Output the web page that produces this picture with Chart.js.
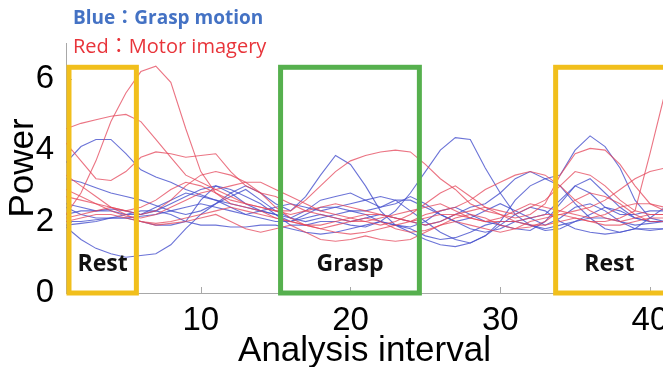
<!DOCTYPE html>
<html>
<head>
<meta charset="utf-8">
<script src="https://cdn.jsdelivr.net/npm/chart.js@4"></script>
<style>
  body { margin: 0; background: #fff; }
  #wrap { position: relative; width: 663px; height: 367px; }
  .note { position: absolute; left: 73px; font-family: 'Open Sans', 'Noto Sans CJK JP', sans-serif; line-height: 1; white-space: nowrap; }
  #noteBlue { top: 8px; color: #4472C4; font-weight: bold; font-size: 19px; }
  #noteRed { top: 36px; color: #E8343A; font-size: 20px; }
</style>
</head>
<body>
<div id="wrap">
  <canvas id="chart" width="663" height="367"></canvas>
  <div class="note" id="noteBlue">Blue：Grasp motion</div>
  <div class="note" id="noteRed">Red：Motor imagery</div>
</div>
<script>
// --- dados ---
const intervals = [1, 2, 3, 4, 5, 6, 7, 8, 9, 10, 11, 12, 13, 14, 15, 16, 17, 18, 19, 20,
                   21, 22, 23, 24, 25, 26, 27, 28, 29, 30, 31, 32, 33, 34, 35, 36, 37, 38, 39, 40, 41];
const xTicks = [10, 20, 30, 40];
const yTicks = [0, 2, 4, 6];

// Blue: Grasp motion
const blue1 = [1.85, 1.5, 1.25, 1.1, 1.0, 1.05, 1.1, 1.35, 1.8, 2.2, 2.5, 2.7, 2.9, 2.6, 2.3, 2.1, 2.0, 2.1, 2.2, 2.3, 2.2, 2.0, 1.9, 1.8, 1.6, 1.5, 1.55, 1.7, 1.9, 2.0, 2.0, 1.9, 1.75, 1.8, 2.0, 2.1, 2.1, 2.0, 1.9, 1.95, 2.0];
const blue2 = [3.65, 4.1, 4.3, 4.3, 3.9, 3.45, 3.25, 3.1, 2.9, 2.75, 2.6, 2.5, 2.4, 2.3, 2.2, 2.1, 2.3, 2.6, 2.7, 2.8, 2.6, 2.4, 2.5, 2.7, 2.5, 2.2, 2.0, 2.1, 2.3, 2.5, 2.3, 2.1, 1.9, 2.1, 2.4, 2.5, 2.3, 2.0, 1.8, 1.75, 1.8];
const blue3 = [3.2, 3.1, 2.95, 2.8, 2.7, 2.6, 2.45, 2.3, 2.2, 2.3, 2.5, 2.8, 3.0, 2.8, 2.5, 2.3, 2.7, 3.3, 3.85, 3.6, 3.0, 2.3, 1.9, 1.85, 2.0, 2.3, 2.4, 2.2, 2.0, 1.9, 1.8, 1.75, 2.0, 2.5, 3.0, 3.2, 2.8, 2.4, 2.1, 2.0, 2.0];
const blue4 = [2.5, 2.4, 2.3, 2.3, 2.2, 2.2, 2.3, 2.5, 2.7, 2.9, 3.0, 2.9, 2.7, 2.5, 2.2, 1.9, 1.9, 2.0, 2.0, 1.9, 1.85, 2.0, 2.3, 2.8, 3.4, 4.0, 4.35, 4.3, 3.5, 2.8, 2.2, 1.9, 1.8, 1.9, 2.0, 2.2, 2.4, 2.3, 2.1, 2.0, 2.0];
const blue5 = [2.0, 2.0, 2.05, 2.1, 2.1, 2.15, 2.2, 2.3, 2.4, 2.5, 2.4, 2.3, 2.2, 2.1, 2.0, 2.0, 2.1, 2.2, 2.1, 2.0, 2.1, 2.2, 2.1, 2.0, 1.9, 2.0, 2.2, 2.4, 2.5, 2.8, 3.2, 3.4, 3.2, 3.3, 4.0, 4.4, 4.1, 3.5, 2.6, 2.1, 2.0];
const blue6 = [2.4, 2.2, 2.1, 2.1, 2.1, 2.0, 1.9, 1.9, 2.0, 2.6, 3.0, 2.8, 2.5, 2.3, 2.4, 2.5, 2.4, 2.3, 2.4, 2.5, 2.6, 2.7, 2.6, 2.3, 2.0, 1.7, 1.5, 1.4, 1.6, 2.0, 2.6, 3.0, 3.2, 3.0, 2.5, 2.1, 1.8, 1.7, 1.8, 2.1, 2.4];
const blue7 = [1.9, 1.95, 2.0, 2.1, 2.2, 2.3, 2.3, 2.2, 2.0, 1.9, 1.9, 1.85, 1.85, 1.9, 1.9, 1.8, 1.7, 1.65, 1.7, 1.8, 1.9, 2.0, 1.9, 1.7, 1.5, 1.35, 1.3, 1.4, 1.6, 1.9, 2.2, 2.4, 2.3, 2.0, 1.8, 1.7, 1.65, 1.7, 1.8, 1.8, 1.8];
const blue8 = [2.2, 2.3, 2.3, 2.35, 2.3, 2.2, 2.4, 2.6, 2.8, 2.7, 2.6, 2.4, 2.2, 2.3, 2.2, 2.0, 2.2, 2.4, 2.4, 2.3, 2.3, 2.4, 2.6, 2.6, 2.4, 2.2, 2.0, 1.8, 1.7, 1.8, 2.0, 2.1, 2.2, 2.6, 3.0, 2.8, 2.4, 2.2, 2.2, 2.3, 2.3];

// Red: Motor imagery
const red1 = [2.2, 2.8, 3.7, 4.8, 5.6, 6.2, 6.35, 5.9, 4.6, 3.4, 2.8, 2.5, 2.4, 2.3, 2.1, 2.0, 1.9, 1.9, 2.0, 2.1, 2.2, 2.2, 2.1, 2.0, 1.9, 2.0, 2.2, 2.1, 2.0, 2.0, 2.0, 2.1, 2.2, 2.2, 2.1, 2.0, 2.0, 2.1, 2.3, 3.9, 5.6];
const red2 = [4.6, 4.75, 4.85, 4.95, 5.0, 4.8, 4.3, 3.8, 3.3, 3.1, 2.9, 2.7, 2.5, 2.4, 2.3, 2.2, 2.3, 2.4, 2.5, 2.4, 2.3, 2.2, 2.1, 2.0, 2.1, 2.2, 2.2, 2.3, 2.4, 2.3, 2.2, 2.4, 2.6, 3.0, 3.4, 3.3, 3.0, 2.6, 2.3, 2.2, 2.2];
const red3 = [4.2, 3.7, 3.2, 3.15, 3.4, 3.8, 3.95, 3.9, 3.8, 3.85, 3.9, 3.4, 3.0, 2.8, 2.7, 2.5, 2.3, 2.2, 2.1, 2.0, 2.0, 2.1, 2.2, 2.3, 2.4, 2.5, 2.3, 2.1, 2.0, 2.1, 2.3, 2.5, 2.4, 2.3, 2.2, 2.1, 2.2, 2.4, 2.5, 2.5, 2.4];
const red4 = [2.7, 2.6, 2.5, 2.4, 2.3, 2.4, 2.6, 2.9, 3.1, 3.0, 2.8, 2.6, 2.5, 2.4, 2.3, 2.3, 2.6, 3.0, 3.4, 3.7, 3.85, 3.95, 4.0, 3.95, 3.6, 3.2, 2.9, 2.5, 2.3, 2.2, 2.1, 2.2, 2.5, 3.3, 3.9, 4.05, 4.0, 3.6, 3.0, 2.5, 2.3];
const red5 = [2.1, 2.2, 2.3, 2.4, 2.3, 2.2, 2.3, 2.6, 3.0, 3.3, 3.4, 3.3, 3.1, 2.8, 2.4, 2.1, 1.9, 1.8, 1.7, 1.65, 1.7, 1.8, 1.9, 2.0, 2.2, 2.3, 2.4, 2.6, 2.9, 3.1, 3.3, 3.4, 3.3, 3.0, 2.6, 2.3, 2.1, 2.0, 2.1, 2.2, 2.2];
const red6 = [2.0, 2.1, 2.2, 2.2, 2.1, 2.0, 1.9, 1.95, 2.0, 2.1, 2.2, 2.0, 1.8, 1.7, 1.8, 1.9, 1.7, 1.5, 1.45, 1.5, 1.6, 1.5, 1.45, 1.5, 1.7, 1.9, 2.0, 1.9, 1.8, 1.7, 1.8, 2.0, 2.1, 2.2, 2.3, 2.4, 2.6, 2.9, 3.2, 3.4, 3.5];
const red7 = [2.9, 2.7, 2.5, 2.3, 2.15, 2.1, 2.2, 2.4, 2.6, 2.8, 2.9, 3.0, 3.1, 3.1, 2.9, 2.7, 2.5, 2.3, 2.2, 2.1, 2.0, 1.9, 2.0, 2.2, 2.5, 2.8, 3.0, 2.7, 2.4, 2.2, 2.0, 1.9, 1.9, 2.0, 2.1, 2.0, 1.9, 1.9, 2.0, 2.1, 2.1];
const red8 = [3.3, 3.0, 2.7, 2.4, 2.2, 2.0, 1.95, 2.0, 2.1, 2.2, 2.3, 2.4, 2.3, 2.2, 2.1, 2.0, 1.9, 1.8, 1.9, 2.0, 2.1, 2.0, 1.8, 1.7, 1.75, 1.9, 2.1, 2.2, 2.1, 1.9, 1.8, 1.85, 2.0, 2.3, 2.6, 2.8, 2.7, 2.5, 2.2, 2.0, 2.0];

// Janelas de análise (Rest / Grasp / Rest)
const boxLabels = ['Rest', 'Grasp', 'Rest'];
const boxStart = [1.2, 15.33, 33.7];
const boxEnd = [5.7, 24.6, 44];
const boxTop = 6.32;

const blueSeries = [blue1, blue2, blue3, blue4, blue5, blue6, blue7, blue8];
const redSeries = [red1, red2, red3, red4, red5, red6, red7, red8];

const BLUE = 'rgba(70, 80, 205, 0.8)';
const RED = 'rgba(228, 70, 90, 0.75)';
const BOX_COLORS = ['#F1BF1C', '#56B04E', '#F1BF1C'];
const AXIS_GREY = '#a8a8a8';
const AXIS_FONT = "'Liberation Sans', Arial, sans-serif";

function toPoints(values) {
    return values.map((v, i) => ({ x: intervals[i], y: v }));
}

const datasets = [];
redSeries.forEach(s => datasets.push({ data: toPoints(s), borderColor: RED }));
blueSeries.forEach(s => datasets.push({ data: toPoints(s), borderColor: BLUE }));

// caixas coloridas + marcas de tick internas
const boxesPlugin = {
    id: 'boxes',
    afterDatasetsDraw(chart) {
        const { ctx, chartArea, scales: { x, y } } = chart;
        ctx.save();
        // tick marks apontando para dentro
        ctx.strokeStyle = AXIS_GREY;
        ctx.lineWidth = 1;
        xTicks.forEach(v => {
            const px = Math.round(x.getPixelForValue(v)) + 0.5;
            ctx.beginPath();
            ctx.moveTo(px, chartArea.bottom);
            ctx.lineTo(px, chartArea.bottom - 6);
            ctx.stroke();
        });
        yTicks.forEach(v => {
            const py = Math.round(y.getPixelForValue(v)) + 0.5;
            ctx.beginPath();
            ctx.moveTo(chartArea.left, py);
            ctx.lineTo(chartArea.left + 6, py);
            ctx.stroke();
        });

        const yb = y.getPixelForValue(0);
        const yt = y.getPixelForValue(boxTop);
        boxLabels.forEach((label, i) => {
            const x0 = x.getPixelForValue(boxStart[i]);
            const x1 = x.getPixelForValue(boxEnd[i]);
            ctx.strokeStyle = BOX_COLORS[i];
            ctx.lineWidth = 5;
            ctx.strokeRect(x0, yt, x1 - x0, yb - yt);

            const cx = (x0 + Math.min(x1, chartArea.right)) / 2;
            ctx.fillStyle = '#111';
            ctx.font = "bold 23px 'Open Sans', sans-serif";
            ctx.textAlign = 'center';
            ctx.textBaseline = 'middle';
            ctx.fillText(label, cx, yb - 29);
        });
        ctx.restore();
    }
};

new Chart(document.getElementById('chart'), {
    type: 'line',
    data: { datasets: datasets },
    options: {
        responsive: false,
        animation: false,
        devicePixelRatio: 1,
        layout: { padding: { left: 0, top: 43, right: 0, bottom: 0 } },
        elements: {
            point: { radius: 0 },
            line: { borderWidth: 1.1, tension: 0 }
        },
        plugins: { legend: { display: false }, tooltip: { enabled: false } },
        scales: {
            x: {
                type: 'linear',
                min: 1,
                max: 40.87,
                grid: { display: false },
                border: { color: AXIS_GREY, width: 1 },
                ticks: { color: '#000', font: { family: AXIS_FONT, size: 33 }, padding: 0, maxRotation: 0 },
                title: { display: true, text: 'Analysis interval', color: '#000', font: { family: AXIS_FONT, size: 35 }, padding: { top: 0, bottom: -5 } },
                afterBuildTicks: scale => { scale.ticks = xTicks.map(v => ({ value: v })); },
                afterFit: scale => { scale.height = 74; scale.paddingLeft = 0; scale.paddingRight = 0; }
            },
            y: {
                min: 0,
                max: 7,
                grid: { display: false },
                border: { color: AXIS_GREY, width: 1 },
                ticks: { color: '#000', font: { family: AXIS_FONT, size: 33 }, padding: 4 },
                title: { display: true, text: 'Power', color: '#000', font: { family: AXIS_FONT, size: 35 }, padding: { top: 2, bottom: 0 } },
                afterBuildTicks: scale => { scale.ticks = yTicks.map(v => ({ value: v })); },
                afterFit: scale => { scale.width = 66; scale.paddingTop = 0; scale.paddingBottom = 0; }
            }
        }
    },
    plugins: [boxesPlugin]
});
</script>
</body>
</html>
